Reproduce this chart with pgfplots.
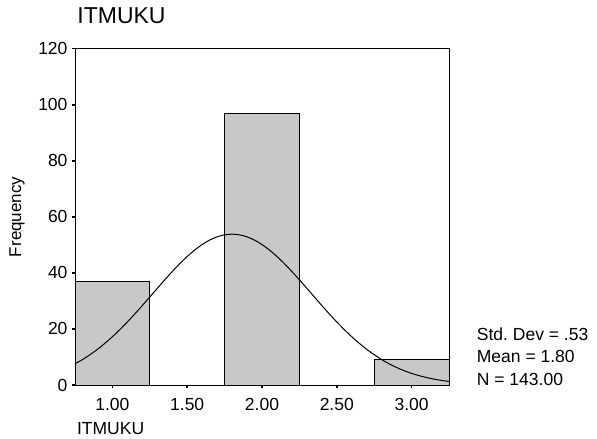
\documentclass[border=0pt]{standalone}
\usepackage{pgfplots}
\pgfplotsset{compat=1.18}
\usepackage{fontspec}
\setmainfont{Liberation Sans}
\frenchspacing
\definecolor{bargray}{RGB}{200,200,200}
\begin{document}
\begin{tikzpicture}
\useasboundingbox (-75pt,-54pt) rectangle (522pt,385pt);
\begin{axis}[
  at={(0pt,0pt)}, anchor=south west,
  scale only axis, width=374pt, height=336.3pt,
  xmin=0.75, xmax=3.25, ymin=0, ymax=120,
  xtick={1,1.5,2,2.5,3},
  xticklabels={1.00,1.50,2.00,2.50,3.00},
  ytick={0,20,40,60,80,100,120},
  xtick pos=bottom, ytick pos=left,
  tick align=outside, major tick length=3pt,
  tick style={line width=1.6pt, black},
  axis line style={line width=0.8pt, black},
  /pgf/number format/assume math mode=true,
  ticklabel style={font=\fontsize{17.5}{21}\selectfont},
  yticklabel style={xshift=-1pt},
  xticklabel style={yshift=-7pt},
  title={ITMUKU},
  title style={at={(axis description cs:0.006,1.0577)}, anchor=base west, font=\fontsize{23}{27}\selectfont, inner sep=0pt},
  xlabel={ITMUKU},
  xlabel style={at={(axis description cs:0.005,-0.147)}, anchor=base west, font=\fontsize{17.5}{21}\selectfont, inner sep=0pt},
  ylabel={Frequency},
  ylabel style={at={(axis description cs:-0.155,0.5)}, anchor=center, font=\fontsize{17}{21}\selectfont},
  clip=true,
]
\addplot[ybar interval, fill=bargray, draw=black, line width=0.9pt] coordinates {(0.75,37) (1.25,37)};
\addplot[ybar interval, fill=bargray, draw=black, line width=0.9pt] coordinates {(1.75,97) (2.25,97)};
\addplot[ybar interval, fill=bargray, draw=black, line width=0.9pt] coordinates {(2.75,9) (3.25,9)};
\addplot[black, line width=1pt, smooth] coordinates {
(0.75,7.56)(0.80,9.07)(0.85,10.80)(0.90,12.73)(0.95,14.88)(1.00,17.23)
(1.05,19.77)(1.10,22.50)(1.15,25.37)(1.20,28.36)(1.25,31.41)(1.30,34.49)
(1.35,37.53)(1.40,40.48)(1.45,43.28)(1.50,45.85)(1.55,48.15)(1.60,50.12)
(1.65,51.71)(1.70,52.87)(1.75,53.58)(1.80,53.82)(1.85,53.58)(1.90,52.87)
(1.95,51.71)(2.00,50.12)(2.05,48.15)(2.10,45.85)(2.15,43.28)(2.20,40.48)
(2.25,37.53)(2.30,34.49)(2.35,31.41)(2.40,28.36)(2.45,25.37)(2.50,22.50)
(2.55,19.77)(2.60,17.23)(2.65,14.88)(2.70,12.73)(2.75,10.80)(2.80,9.07)
(2.85,7.56)(2.90,6.24)(2.95,5.11)(3.00,4.15)(3.05,3.34)(3.10,2.66)
(3.15,2.10)(3.20,1.64)(3.25,1.28)};
\end{axis}
\begin{scope}[every node/.style={anchor=base west, inner sep=0pt, font=\fontsize{17.5}{21}\selectfont}]
\node at (401.7pt,45pt) {Std. Dev = .53};
\node at (401.7pt,22pt) {Mean = 1.80};
\node at (401.7pt,-1pt) {N = 143.00};
\end{scope}
\end{tikzpicture}
\end{document}
